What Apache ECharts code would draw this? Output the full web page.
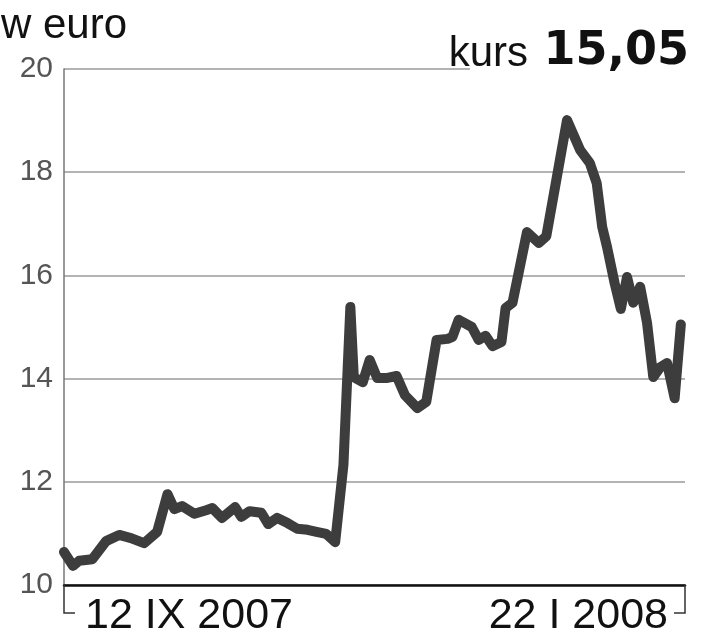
<!DOCTYPE html>
<html>
<head>
<meta charset="utf-8">
<script src="https://cdn.jsdelivr.net/npm/echarts@6/dist/echarts.min.js"></script>
<style>html,body{margin:0;padding:0;background:#fff}#c{width:702px;height:640px}</style>
</head>
<body>
<div id="c"></div>
<script>
// trading-day index (x) and price in euro (y)
const days = [0,1.3,2.2,4.1,6.1,8.0,9.7,11.6,13.5,15.0,16.0,17.1,18.9,20.6,21.5,22.9,24.8,25.7,26.9,28.6,29.6,30.9,32.4,33.8,35.3,36.6,38.0,39.3,40.5,41.5,42.0,43.3,44.3,45.4,46.7,48.2,49.4,51.2,52.5,54.0,55.6,56.3,57.2,59.1,60.1,61.1,62.1,63.4,64.0,65.0,67.1,68.8,69.9,72.9,74.8,76.2,77.2,78.0,78.7,79.8,80.7,81.6,82.5,83.5,84.5,85.4,86.4,87.4,88.5,89.4];
const prices = [10.64,10.37,10.47,10.50,10.85,10.97,10.91,10.81,11.03,11.76,11.47,11.53,11.38,11.45,11.49,11.30,11.51,11.32,11.43,11.40,11.18,11.30,11.20,11.09,11.07,11.03,10.99,10.83,12.33,15.39,14.03,13.93,14.36,14.01,14.01,14.05,13.68,13.43,13.55,14.75,14.77,14.81,15.14,15.00,14.75,14.83,14.63,14.71,15.37,15.47,16.84,16.63,16.76,19.01,18.43,18.18,17.79,16.94,16.55,15.85,15.35,15.97,15.47,15.78,15.08,14.03,14.22,14.30,13.62,15.05];
const dateLabels = ['12 IX 2007', '22 I 2008'];
const yTicks = [10, 12, 14, 16, 18, 20];
const unitLabel = 'w euro';
const lastLabel = 'kurs';
const lastValue = '15,05';

const seriesData = days.map((d, i) => [d, prices[i]]);
const chart = echarts.init(document.getElementById('c'), null, {renderer: 'canvas'});
const FONT = 'Liberation Sans, Arial, sans-serif';
chart.setOption({
  animation: false,
  grid: {left: 64, right: 17, top: 69, bottom: 55, containLabel: false},
  xAxis: {
    type: 'value', min: 0, max: 90, interval: 90,
    axisLine: {show: true, lineStyle: {color: '#111', width: 2.5}},
    axisTick: {show: false},
    splitLine: {show: false},
    axisLabel: {
      show: true, margin: 10, color: '#111', fontFamily: FONT, fontSize: 43,
      alignMinLabel: 'left', alignMaxLabel: 'right',
      padding: [0, 17, 0, 21],
      formatter: (v) => v === 0 ? dateLabels[0] : dateLabels[1]
    }
  },
  yAxis: {
    type: 'value', min: yTicks[0], max: yTicks[yTicks.length - 1], interval: 2,
    axisLine: {show: true, lineStyle: {color: '#777', width: 1.5}},
    axisTick: {show: false},
    splitLine: {show: true, lineStyle: {color: '#9a9a9a', width: 1.5}},
    axisLabel: {margin: 11, color: '#555', fontFamily: FONT, fontSize: 30}
  },
  series: [{
    type: 'line', data: seriesData, symbol: 'none', clip: false,
    lineStyle: {color: '#3d3d3d', width: 10, join: 'round', cap: 'round'},
    z: 5
  }],
  graphic: [
    {type: 'rect', left: 470, top: 66, shape: {width: 232, height: 7}, style: {fill: '#fff'}, z: 1},
    {type: 'polyline', shape: {points: [[64, 585], [64, 613], [75, 613]]}, style: {stroke: '#333', lineWidth: 1.5, fill: null}, z: 10},
    {type: 'polyline', shape: {points: [[685, 585], [685, 613], [674, 613]]}, style: {stroke: '#333', lineWidth: 1.5, fill: null}, z: 10},
    {type: 'text', x: 1, y: 26, style: {text: unitLabel, font: '42px ' + FONT, fill: '#111', textAlign: 'left', textVerticalAlign: 'middle'}, z: 10},
    {type: 'text', x: 528, y: 54, style: {text: lastLabel, font: '42px ' + FONT, fill: '#111', textAlign: 'right', textVerticalAlign: 'middle'}, z: 10},
    {type: 'text', x: 689, y: 52, style: {text: lastValue, font: 'bold 46px DejaVu Sans, sans-serif', fill: '#111', textAlign: 'right', textVerticalAlign: 'middle'}, z: 10}
  ]
});
</script>
</body>
</html>
